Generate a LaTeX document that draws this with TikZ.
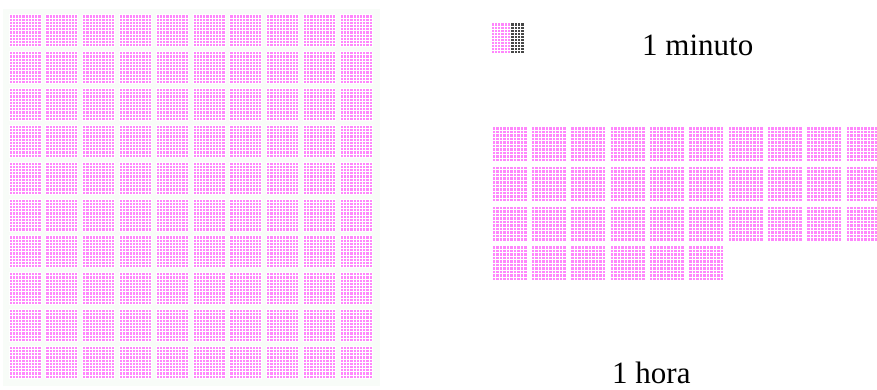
\documentclass[tikz,border=0pt]{standalone}
\usepackage{fontspec}
\setmainfont{Liberation Serif}

\definecolor{dotpink}{RGB}{255,135,252}
\definecolor{dotgray}{RGB}{70,70,70}
\definecolor{paneltint}{RGB}{248,252,248}

% one square of 10x10 dots: x, y, size, colour
\newcommand{\dotsquare}[4]{%
  \fill[#4] (#1,#2) rectangle ++(#3,#3);
  \foreach \k in {0,...,10} {
    \draw[white, line width=1pt] ({#1+#3*\k/10},#2) -- ++(0,#3);
    \draw[white, line width=1pt] (#1,{#2+#3*\k/10}) -- ++(#3,0);
  }}

\begin{document}
\begin{tikzpicture}[x=1pt, y=-1pt, label/.style={font=\fontsize{31}{31}\selectfont, inner sep=0pt}]
  \clip (0,0) rectangle (877,390);
  \fill[white] (0,0) rectangle (877,390);
  \fill[paneltint] (3,9) rectangle (380,386);
  % left panel: 10 x 10 squares
  \foreach \i in {0,...,9} {
    \foreach \j in {0,...,9} {
      \dotsquare{9+36.8*\i}{15+36.8*\j}{32}{dotpink}
    }
  }
  % one minute: 60 pink dots, 40 grey
  \fill[dotpink] (491,23) rectangle (511,54);
  \fill[dotgray] (511,23) rectangle (524,54);
  \foreach \k in {0,...,10} {
    \draw[white, line width=1pt] ({491+3.3*\k},23) -- (491+3.3*\k,54);
    \draw[white, line width=1pt] (491,{23+3.1*\k}) -- (524,23+3.1*\k);
  }
  \node[label, anchor=base west] (minuto) at (642,56) {1 minuto};
  % one hour: 36 squares
  \foreach \i in {0,...,9} {
    \foreach \j in {0,1,2} {
      \dotsquare{492+39.35*\i}{127+39.5*\j}{35}{dotpink}
    }
  }
  \foreach \i in {0,...,5} {
    \dotsquare{492+39.35*\i}{245.5}{35}{dotpink}
  }
  \node[label, anchor=base west] (hora) at (612,383) {1 hora};
\end{tikzpicture}
\end{document}
